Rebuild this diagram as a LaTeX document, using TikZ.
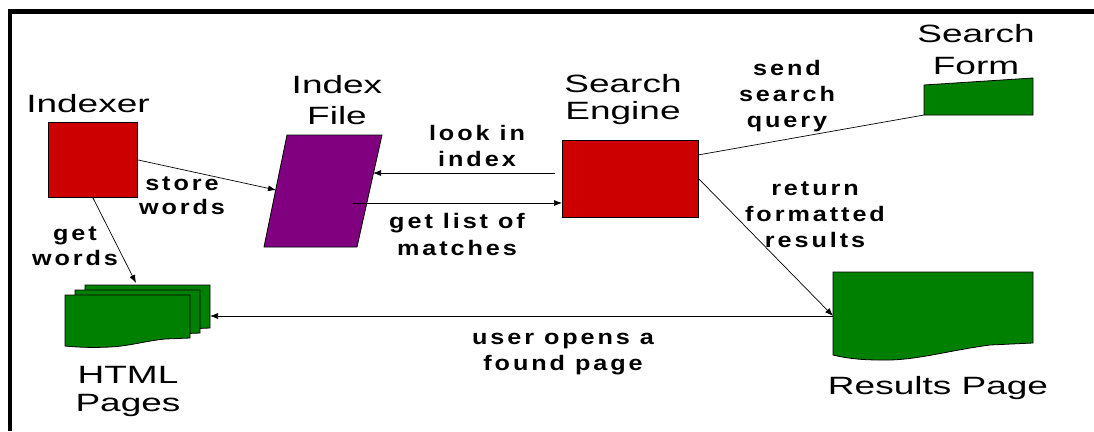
\documentclass[tikz,border=0pt]{standalone}
\usepackage{fontspec}
\setmainfont{Liberation Sans}
\newfontfamily\titlefont[FakeStretch=1.48]{Liberation Sans}
\newfontfamily\labfont[FakeStretch=1.2,LetterSpace=14]{Liberation Sans}
\usetikzlibrary{arrows.meta}
\definecolor{boxred}{HTML}{CC0000}
\definecolor{filepurple}{HTML}{800080}
\definecolor{pagegreen}{HTML}{008000}
\begin{document}
\begin{tikzpicture}[x=1pt,y=-1pt,
  title/.style={font=\titlefont\fontsize{25}{#1}\selectfont, align=center, inner sep=0pt},
  title/.default=28,
  lab/.style={font=\labfont\bfseries\fontsize{21}{#1}\selectfont, align=center, inner sep=0pt},
  lab/.default=26,
  redbox/.style={draw=black, line width=0.8pt, fill=boxred, inner sep=0pt, anchor=north west},
  shapeline/.style={draw=black, line width=0.8pt},
  conn/.style={line width=0.7pt, -{Latex[length=8pt,width=6pt]}},
  plainline/.style={line width=0.7pt},
]
\useasboundingbox (0,0) rectangle (1094,431);
\fill[white] (0,0) rectangle (1094,431);
% frame
\draw[line width=4.5pt] (10,431) -- (10,11.5) -- (1094,11.5);

% Indexer
\node[redbox, minimum width=89pt, minimum height=75pt] (indexer) at (48,122) {};
\node[title] (indexerlabel) at (88,104) {Indexer};

% Index file
\draw[shapeline, fill=filepurple] (287,135) -- (382,135) -- (357,247) -- (264,247) -- cycle;
\coordinate (ifIn) at (276,190);
\coordinate (ifLook) at (373,173);
\coordinate (ifList) at (353,203);
\node[title=31] (indexfilelabel) at (337,100) {Index\\File};

% Search engine
\node[redbox, minimum width=136pt, minimum height=77pt] (engine) at (562,140) {};
\node[title=27] (enginelabel) at (623,100) {Search\\Engine};
\coordinate (engLook) at (555,173);
\coordinate (engList) at (562,203);
\coordinate (engQ) at (698,155);
\coordinate (engR) at (698,178);

% Search form
\draw[shapeline, fill=pagegreen] (924,115) coordinate (formBL) -- (924,85) -- (1033,78) -- (1033,115) -- cycle;
\node[title=32] (formlabel) at (976,50) {Search\\Form};

% Results page
\draw[shapeline, fill=pagegreen] (833,272) -- (1033,272) -- (1033,343) -- (990,345)
  .. controls (945,351) and (915,361) .. (880,360)
  .. controls (860,360) and (845,358) .. (833,355) -- cycle;
\coordinate (resL) at (833,316);
\node[title] (resultslabel) at (938,388) {Results Page};

% HTML pages
\foreach \s in {20,10,0}{
  \draw[shapeline, fill=pagegreen, shift={(\s,-0.5*\s)}] (65,295) -- (190,295) -- (190,338) -- (165,339)
    .. controls (145,341) and (130,346) .. (110,347)
    .. controls (90,348) and (75,347) .. (65,346) -- cycle;
}
\coordinate (htmlR) at (210,316);
\coordinate (htmlT) at (136,283);
\node[title] (htmllabel) at (128,391) {HTML\\Pages};

% connectors
\draw[conn] (indexer.east) -- (ifIn);
\draw[conn] (indexer.south) -- (htmlT);
\draw[conn] (engLook) -- (ifLook);
\draw[conn] (ifList) -- (engList);
\draw[plainline] (engQ) -- (formBL);
\draw[conn] (engR) -- (resL);
\draw[conn] (resL) -- (htmlR);

% labels
\node[lab=24] (lstore) at (182,196) {store\\words};
\node[lab=25] (lget) at (75,246) {get\\words};
\node[lab] (llook) at (477,146) {look in\\index};
\node[lab=27] (llist) at (457,234) {get list of\\matches};
\node[lab] (lsend) at (787,96) {send\\search\\query};
\node[lab=26] (lreturn) at (815,215) {return\\formatted\\results};
\node[lab] (luser) at (563,354) {user opens a\\found page};
\end{tikzpicture}
\end{document}
